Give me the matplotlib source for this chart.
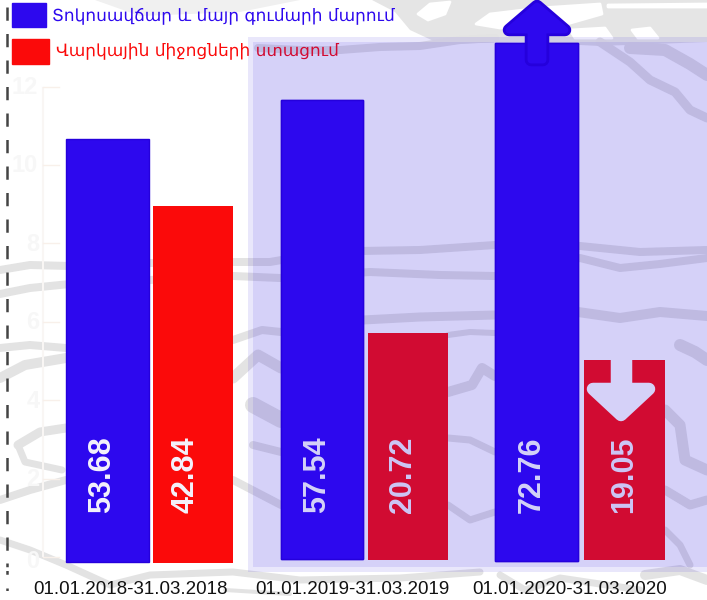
import matplotlib.pyplot as plt
from matplotlib.patches import Polygon, Rectangle

# Data
periods = ['01.01.2018-31.03.2018', '01.01.2019-31.03.2019', '01.01.2020-31.03.2020']
value_labels = ['53.68', '42.84', '57.54', '20.72', '72.76', '19.05']
# bar tops on the faint 0-12 axis of the original, they do not follow the labels
bar_tops = [10.66, 8.95, 11.66, 5.71, 13.10, 5.02]
axis_ticks = [0, 2, 4, 6, 8, 10, 12]
legend_labels = ['Տոկոսավճար և մայր գումարի մարում', 'Վարկային միջոցների ստացում']

BLUE = '#2d08ee'
BLUE_EDGE = '#2500dc'
RED = '#fb0a0a'
GREY = '#e3e3e3'
W, H = 707, 600
PX_PER_UNIT = 39.2
ZERO_PX = 557

plt.rcParams['font.family'] = ['Liberation Sans', 'DejaVu Sans']

fig = plt.figure(figsize=(W / 100, H / 100), dpi=100)


def pixel_axes(z):
    ax = fig.add_axes([0, 0, 1, 1], zorder=z)
    ax.set_xlim(0, W)
    ax.set_ylim(H, 0)
    ax.axis('off')
    return ax


# Map texture behind everything
bg = pixel_axes(0)
bg.add_patch(Polygon([(372, 0), (707, 0), (707, 42), (600, 46), (520, 42), (440, 44), (410, 30), (395, 12)],
                     color='#e5e5e5', lw=0))
for pts in [[(418, 14), (430, 4), (450, 2), (445, 14), (428, 20)],
            [(476, 24), (490, 14), (540, 8), (600, 4), (602, 14), (560, 26), (500, 28)],
            [(570, 30), (605, 28), (612, 38), (575, 38)],
            [(632, 30), (650, 28), (658, 38), (638, 38)],
            [(608, 5), (707, 4), (707, 7), (608, 7)]]:
    bg.add_patch(Polygon(pts, facecolor='white', edgecolor='white', lw=2, joinstyle='round'))
bg.add_patch(Polygon([(95, 0), (300, 0), (240, 12), (140, 16)], color='#f0f0f0', lw=0))

strokes = [
    ([(0, 270), (30, 265), (70, 266), (150, 263), (233, 262), (270, 262), (310, 255), (360, 251), (420, 250), (495, 245),
      (580, 246), (640, 252), (707, 250)], 8),
    ([(0, 294), (30, 288), (70, 284), (150, 280), (233, 276), (280, 278), (370, 272), (440, 275), (495, 276),
      (580, 258), (620, 268), (660, 264), (707, 258)], 8),
    ([(258, 48), (300, 50), (340, 50), (380, 47), (420, 46), (460, 40), (495, 38)], 8),
    ([(600, 42), (630, 62), (650, 80), (675, 92), (690, 110), (707, 118)], 9),
    ([(630, 48), (665, 50), (690, 64), (707, 75)], 12),
    ([(363, 320), (420, 317), (495, 315)], 9),
    ([(578, 312), (620, 318), (660, 312), (707, 316)], 10),
    ([(448, 335), (470, 332), (495, 333)], 6),
    ([(0, 348), (30, 345), (66, 348)], 8),
    ([(0, 378), (25, 365), (66, 358)], 10),
    ([(233, 340), (262, 330), (281, 332)], 8),
    ([(233, 378), (258, 355), (281, 368)], 11),
    ([(253, 405), (281, 420)], 16),
    ([(448, 392), (472, 385), (482, 368), (495, 376)], 10),
    ([(448, 438), (470, 440), (495, 452)], 7),
    ([(253, 445), (281, 452)], 8),
    ([(18, 445), (40, 432), (66, 428)], 9),
    ([(18, 445), (25, 462), (62, 470)], 7),
    ([(0, 500), (30, 490), (66, 480)], 8),
    ([(233, 480), (281, 505)], 8),
    ([(448, 505), (470, 520), (495, 512)], 7),
    ([(665, 410), (680, 425), (685, 460), (707, 470)], 11),
    ([(680, 345), (695, 352), (707, 360)], 12),
    ([(665, 490), (690, 505), (707, 500)], 9),
    ([(0, 540), (30, 550), (66, 565), (110, 585), (150, 575), (233, 572), (300, 580), (400, 578), (480, 572)], 7),
    ([(500, 575), (525, 590), (560, 578), (640, 590)], 7),
    ([(645, 575), (680, 570), (707, 580)], 10),
    ([(665, 530), (680, 545), (690, 565)], 7),
    ([(225, 590), (290, 594)], 4),
]
for pts, width in strokes:
    bg.plot(*zip(*pts), color=GREY, lw=width * 0.72, solid_capstyle='round', solid_joinstyle='round')

# Faint leftover axis of the original
bg.plot([43, 43], [88, 556], color='#f9f6f4', lw=1.5)
for t in axis_ticks:
    y = ZERO_PX - t * PX_PER_UNIT
    bg.plot([43, 59], [y, y], color='#f8f0ea', lw=1)
    bg.text(25 if t >= 10 else 33, y + 1 if t else y + 4, str(t), color='#f7f7f7', fontsize=17,
            fontweight='bold', ha='center', va='center')

# Dashed line on the left
bg.plot([7, 7], [7, 560], color='#444444', lw=1.8, linestyle=(0, (5.3, 5.3)))
bg.plot([7, 7], [563, 577], color='#444444', lw=1.8, linestyle=(0, (1.5, 1.5)))
bg.plot([7, 7], [588, 598], color='#444444', lw=1.8, linestyle=(0, (1, 3)))

# Bars on the value axis
ax = fig.add_axes([0, 0, 1, 1], zorder=1)
ax.patch.set_alpha(0)
ax.axis('off')
ax.set_xlim(0, W)
ax.set_ylim((ZERO_PX - H) / PX_PER_UNIT, ZERO_PX / PX_PER_UNIT)

bar_left = [66, 153, 281, 368, 495, 584]
bar_right = [149, 233, 363, 448, 578, 665]
bar_bottom = [-0.12, -0.15, -0.05, -0.08, -0.11, -0.08]
label_x = [102, 186, 317, 403, 532, 624]
for i, bar_top in enumerate(bar_tops):
    is_blue = i % 2 == 0
    ax.bar(bar_left[i], bar_top - bar_bottom[i], bottom=bar_bottom[i], width=bar_right[i] - bar_left[i],
           align='edge', color=BLUE if is_blue else RED, edgecolor=BLUE_EDGE if is_blue else RED, lw=1 if is_blue else 0)
    ax.text(label_x[i], (ZERO_PX - 513) / PX_PER_UNIT, value_labels[i], rotation=90, color='#f4f2fc',
            fontsize=22, fontweight='bold', ha='center', va='bottom', zorder=5)

# White down arrow, goes under the tint like the red bars
mid = pixel_axes(2)
mid.add_patch(Polygon([(617, 353), (626, 353), (626, 389), (649, 389), (621, 415), (593, 389), (617, 389)],
                      facecolor='white', edgecolor='white', lw=9, joinstyle='round'))

# Legend
for y0, y1, x1, color, text, tx, ty in [(3, 27, 46, BLUE, legend_labels[0], 52, 15),
                                        (39, 64, 49, RED, legend_labels[1], 56, 50)]:
    mid.add_patch(Rectangle((12, y0), x1 - 12, y1 - y0, facecolor=color, edgecolor=color, lw=1))
    mid.text(tx, ty, text, color=color, fontsize=12.2, ha='left', va='center', family=['DejaVu Sans'])

# Blue tint over the right part
tint = pixel_axes(3)
tint.add_patch(Rectangle((248, 37), W - 248, 535, facecolor='#2a14e0', alpha=0.1, lw=0))
tint.add_patch(Rectangle((253, 42), W - 253, 525, facecolor='#2a14e0', alpha=0.1, lw=0))

# Blue bars stay solid over the tint, the up arrow sits on top
top = pixel_axes(4)
for i in [2, 4]:
    top.add_patch(Rectangle((bar_left[i], ZERO_PX - bar_tops[i] * PX_PER_UNIT), bar_right[i] - bar_left[i],
                            (bar_tops[i] - bar_bottom[i]) * PX_PER_UNIT, facecolor=BLUE, edgecolor=BLUE_EDGE, lw=1))
    top.text(label_x[i], 513, value_labels[i], rotation=90, color='#d4d2f8', fontsize=22, fontweight='bold',
             ha='center', va='bottom')
up_arrow = [(531, 30), (509, 30), (537, 6), (565, 30), (543, 30), (543, 60), (531, 60)]
top.add_patch(Polygon(up_arrow, facecolor=BLUE_EDGE, edgecolor=BLUE_EDGE, lw=9, joinstyle='round'))
top.add_patch(Polygon(up_arrow, facecolor=BLUE, edgecolor=BLUE, lw=5, joinstyle='round'))

for x, label in zip([130, 352, 570], periods):
    top.text(x, 590, label, color='#111111', fontsize=13.5, ha='center', va='center')

fig.savefig('out.png', dpi=100)
